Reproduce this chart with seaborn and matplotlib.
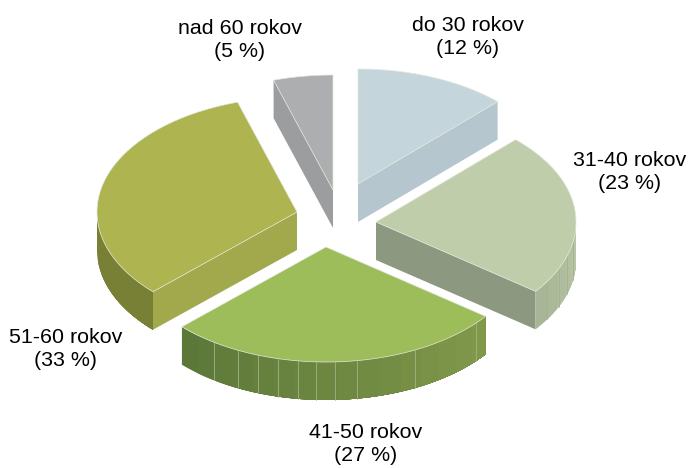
import numpy as np
import matplotlib
matplotlib.use("Agg")
import matplotlib.pyplot as plt
import seaborn as sns

# shares, labels are the rounded ones
groups = ["do 30 rokov", "31-40 rokov", "41-50 rokov", "51-60 rokov", "nad 60 rokov"]
shares = [12.3, 23.0, 27.5, 32.4, 4.8]
share_labels = ["12 %", "23 %", "27 %", "33 %", "5 %"]

top_colors = ["#c5d5dc", "#c0cdaa", "#9dbc5a", "#aeb450", "#adaeb0"]
cut_colors = ["#b5c6ce", "#8c9980", "#7d9848", "#a2a84c", "#9c9d9f"]
rim_from = ["#b5c6ce", "#a9b597", "#5c7839", "#788036", "#9c9d9f"]
rim_to = ["#b5c6ce", "#bac6a8", "#80984a", "#788036", "#9c9d9f"]

# angles of the thin light seams on the rim
rim_seams = [
    [],
    [121, 114, 107, 100],
    [214, 206, 200, 194, 188, 183, 177.4, 171, 153.6, 131.4],
    [],
    [],
]

# layout in pixels
tip_x = [358, 376, 326, 297, 333]
tip_y = [184, 222, 247, 212, 190]
label_x = [468, 630, 366, 66, 240]
label_y = [37, 172, 444, 349, 40]
RX, RY, DEPTH = 200, 115, 38

sns.set_theme(style="white")
plt.rcParams["font.family"] = ["Liberation Sans", "DejaVu Sans"]

fig, ax = plt.subplots(figsize=(6.89, 4.68), dpi=100)
fig.subplots_adjust(0, 0, 1, 1)
ax.set_xlim(0, 689)
ax.set_ylim(468, 0)
ax.axis("off")


def arc(cx, cy, a0, a1):
    t = np.radians(np.linspace(a0, a1, max(int(abs(a1 - a0)) * 2, 2)))
    return cx + RX * np.sin(t), cy - RY * np.cos(t)


def side_band(cx, cy, a0, a1, color):
    x, y = arc(cx, cy, a0, a1)
    ax.fill(np.r_[x, x[::-1]], np.r_[y, y[::-1] + DEPTH], color=color,
            linewidth=0, zorder=2)


ends = np.cumsum(shares) * 3.6
starts = np.r_[0, ends[:-1]]

for i in range(len(groups)):
    a0, a1 = starts[i], ends[i]
    cx, cy = tip_x[i], tip_y[i]

    # flat cut faces, only those turned to the viewer
    for ang, visible in [(a0, 180 < a0 < 360), (a1, 0 < a1 < 180)]:
        if visible:
            ex, ey = arc(cx, cy, ang, ang)
            ax.fill([cx, ex[0], ex[0], cx], [cy, ey[0], ey[0] + DEPTH, cy + DEPTH],
                    color=cut_colors[i], linewidth=0, zorder=2)

    # curved rim, painted far to near so each step covers the seam of the last
    r0, r1 = max(a0, 90), min(a1, 270)
    if r1 > r0:
        n = max(int((r1 - r0) / 6), 1)
        bands = np.linspace(r1, r0, n + 1)
        pal = sns.blend_palette([rim_from[i], rim_to[i]], n)
        for k in range(n):
            side_band(cx, cy, r0, bands[k], pal[k])
        for seam in rim_seams[i]:
            sx, sy = arc(cx, cy, seam, seam)
            ax.plot([sx[0], sx[0]], [sy[0], sy[0] + DEPTH], color="#a3b386",
                    linewidth=0.6, zorder=2.5)

    x, y = arc(cx, cy, a0, a1)
    ax.fill(np.r_[cx, x], np.r_[cy, y], facecolor=top_colors[i],
            edgecolor="#e4e8da", linewidth=0.5, zorder=3)

    ax.text(label_x[i], label_y[i], f"{groups[i]}\n({share_labels[i]})", ha="center",
            va="center", fontsize=15.4, color="black", linespacing=1.22)

fig.savefig("out.png", dpi=100)
